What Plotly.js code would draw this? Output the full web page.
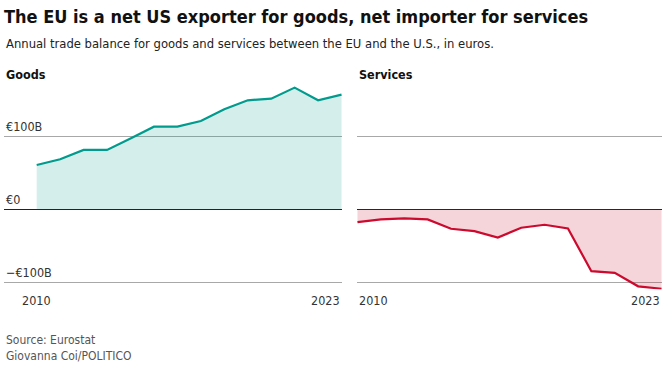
<!DOCTYPE html>
<html><head><meta charset="utf-8">
<script src="https://cdn.plot.ly/plotly-3.0.1.min.js"></script>
<style>body{margin:0;padding:0;background:#fff}#chart{width:663px;height:365px}</style>
</head><body><div id="chart"></div>
<script>
const years = [2010,2011,2012,2013,2014,2015,2016,2017,2018,2019,2020,2021,2022,2023];
const goods = [60.7,68.5,81.3,81.3,97,113.2,113.2,121,137,149.3,151.6,166.7,149.3,157];
const services = [-17.5,-13.8,-12.4,-13.8,-26.7,-30,-38.7,-25.3,-21.2,-26.3,-84.8,-87.1,-105.5,-108.8];
const tickVals = [-100, 0, 100];
const tickLabels = ['\u2212\u20ac100B', '\u20ac0', '\u20ac100B'];
const panelTitles = ['Goods', 'Services'];
const xLabels = ['2010', '2023'];

const W = 663, H = 365;
const FONT = '"DejaVu Sans Condensed", "Liberation Sans Narrow", Roboto, sans-serif';
const yTop = 85.2, yBot = 289.6;
const ydom = [1 - yBot / H, 1 - yTop / H];
const gx = [4 / W, 342 / W], sx = [357 / W, 662 / W];

const traces = [
  {x: years, y: goods, type: 'scatter', mode: 'lines', fill: 'tozeroy',
   fillcolor: 'rgba(0,155,140,0.17)', line: {color: '#009b8c', width: 2.2},
   xaxis: 'x', yaxis: 'y', hoverinfo: 'skip'},
  {x: years, y: services, type: 'scatter', mode: 'lines', fill: 'tozeroy',
   fillcolor: 'rgba(200,20,50,0.18)', line: {color: '#cc0a2e', width: 2.2},
   xaxis: 'x2', yaxis: 'y2', hoverinfo: 'skip'}
];

const yax = {domain: ydom, range: [-110, 170], tickvals: tickVals, showticklabels: false,
  showgrid: true, gridcolor: '#a8a8a8', gridwidth: 1, zeroline: true, zerolinecolor: '#222',
  zerolinewidth: 1.3, fixedrange: true, showline: false};

const ann = [];
ann.push({text: 'Annual trade balance for goods and services between the EU and the U.S., in euros.',
  xref: 'paper', yref: 'paper', x: 4 / W, y: 1 - 44 / H, xanchor: 'left', yanchor: 'middle',
  showarrow: false, font: {family: FONT, size: 12.9, color: '#222'}});
ann.push({text: '<b>' + panelTitles[0] + '</b>', xref: 'paper', yref: 'paper', x: 4 / W, y: 1 - 75 / H,
  xanchor: 'left', yanchor: 'middle', showarrow: false, font: {family: FONT, size: 12.5, color: '#111'}});
ann.push({text: '<b>' + panelTitles[1] + '</b>', xref: 'paper', yref: 'paper', x: 357 / W, y: 1 - 75 / H,
  xanchor: 'left', yanchor: 'middle', showarrow: false, font: {family: FONT, size: 12.5, color: '#111'}});
tickVals.forEach((v, i) => {
  ann.push({text: tickLabels[i], xref: 'paper', yref: 'y', x: 4 / W, y: v, xanchor: 'left',
    yanchor: 'bottom', yshift: 0, showarrow: false, font: {family: FONT, size: 12.5, color: '#333'}});
});
ann.push({text: xLabels[0], xref: 'x', yref: 'paper', x: years[0], y: 1 - 300 / H, xanchor: 'center',
  yanchor: 'middle', showarrow: false, font: {family: FONT, size: 12.5, color: '#333'}});
ann.push({text: xLabels[1], xref: 'paper', yref: 'paper', x: 342 / W, y: 1 - 300 / H, xanchor: 'right',
  yanchor: 'middle', showarrow: false, font: {family: FONT, size: 12.5, color: '#333'}});
ann.push({text: xLabels[0], xref: 'paper', yref: 'paper', x: 357 / W, y: 1 - 300 / H, xanchor: 'left',
  yanchor: 'middle', showarrow: false, font: {family: FONT, size: 12.5, color: '#333'}});
ann.push({text: xLabels[1], xref: 'paper', yref: 'paper', x: 662 / W, y: 1 - 300 / H, xanchor: 'right',
  yanchor: 'middle', showarrow: false, font: {family: FONT, size: 12.5, color: '#333'}});
ann.push({text: 'Source: Eurostat<br>Giovanna Coi/POLITICO', xref: 'paper', yref: 'paper', x: 4 / W,
  y: 1 - 348 / H, xanchor: 'left', yanchor: 'middle', align: 'left', showarrow: false,
  font: {family: FONT, size: 12, color: '#555'}});

const layout = {
  width: W, height: H, margin: {l: 0, r: 0, t: 0, b: 0}, paper_bgcolor: '#fff', plot_bgcolor: 'rgba(0,0,0,0)',
  showlegend: false,
  title: {text: '<b>The EU is a net US exporter for goods, net importer for services</b>',
    x: 4 / W, xanchor: 'left', xref: 'paper', y: 1 - 17 / H, yref: 'container', yanchor: 'middle',
    font: {family: FONT, size: 18, color: '#111'}},
  xaxis: {domain: gx, range: [2008.606, 2023.02], showgrid: false, zeroline: false, showticklabels: false,
    ticks: '', fixedrange: true},
  xaxis2: {domain: sx, range: [2009.98, 2023.02], showgrid: false, zeroline: false, showticklabels: false,
    ticks: '', fixedrange: true, anchor: 'y2'},
  yaxis: Object.assign({}, yax),
  yaxis2: Object.assign({}, yax, {anchor: 'x2'}),
  annotations: ann
};
Plotly.newPlot('chart', traces, layout, {staticPlot: true, displayModeBar: false});
</script></body></html>
